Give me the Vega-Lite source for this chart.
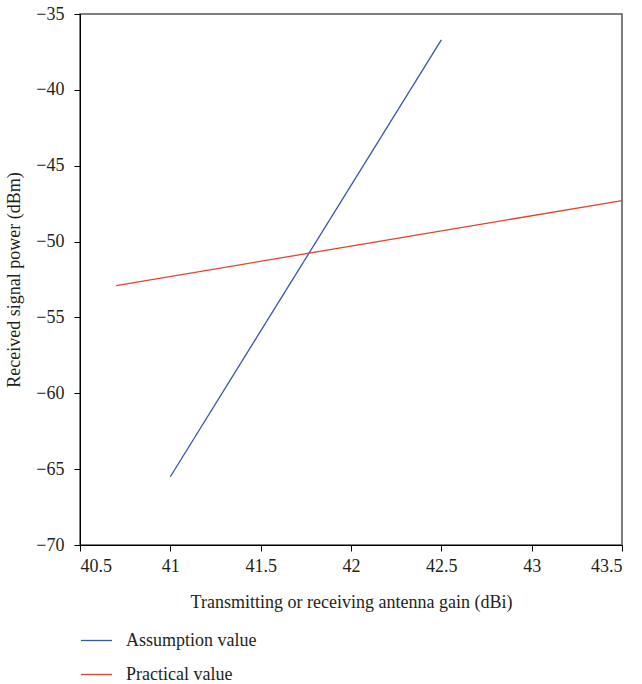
{
  "$schema": "https://vega.github.io/schema/vega-lite/v6.json",
  "width": 542,
  "height": 531,
  "autosize": {"type": "none"},
  "padding": {"left": 80, "top": 14, "right": 20, "bottom": 139},
  "background": "white",
  "config": {
    "font": "Liberation Serif",
    "view": {"stroke": "#555555", "strokeWidth": 1.5},
    "axis": {
      "grid": false,
      "domainColor": "#000000",
      "tickColor": "#000000",
      "labelColor": "#231f20",
      "titleColor": "#231f20",
      "labelFont": "Liberation Serif",
      "titleFont": "Liberation Serif",
      "labelFontSize": 18,
      "titleFontSize": 18,
      "titleFontWeight": "normal",
      "tickSize": 6
    }
  },
  "data": {
    "values": [
      {"gain": 41.0, "power": -65.5, "series": "Assumption value"},
      {"gain": 42.5, "power": -36.7, "series": "Assumption value"},
      {"gain": 40.7, "power": -52.9, "series": "Practical value"},
      {"gain": 43.5, "power": -47.3, "series": "Practical value"}
    ]
  },
  "mark": {"type": "line", "strokeWidth": 1.3},
  "encoding": {
    "x": {
      "field": "gain",
      "type": "quantitative",
      "scale": {"domain": [40.5, 43.5], "nice": false, "zero": false},
      "axis": {
        "title": "Transmitting or receiving antenna gain (dBi)",
        "values": [40.5, 41, 41.5, 42, 42.5, 43, 43.5],
        "format": "~g",
        "labelPadding": 6,
        "titlePadding": 18
      }
    },
    "y": {
      "field": "power",
      "type": "quantitative",
      "scale": {"domain": [-70, -35], "nice": false, "zero": false},
      "axis": {
        "title": "Received signal power (dBm)",
        "values": [-70, -65, -60, -55, -50, -45, -40, -35],
        "labelPadding": 10,
        "titlePadding": 12
      }
    },
    "color": {
      "field": "series",
      "type": "nominal",
      "scale": {"domain": ["Assumption value", "Practical value"], "range": ["#3a56a8", "#e8412b"]},
      "legend": {
        "title": null,
        "orient": "none",
        "legendX": 0,
        "legendY": 610,
        "padding": 0,
        "symbolType": "stroke",
        "symbolSize": 961,
        "symbolStrokeWidth": 1.3,
        "labelFont": "Liberation Serif",
        "labelFontSize": 18,
        "labelColor": "#231f20",
        "labelOffset": 13,
        "rowPadding": 8
      }
    }
  }
}
